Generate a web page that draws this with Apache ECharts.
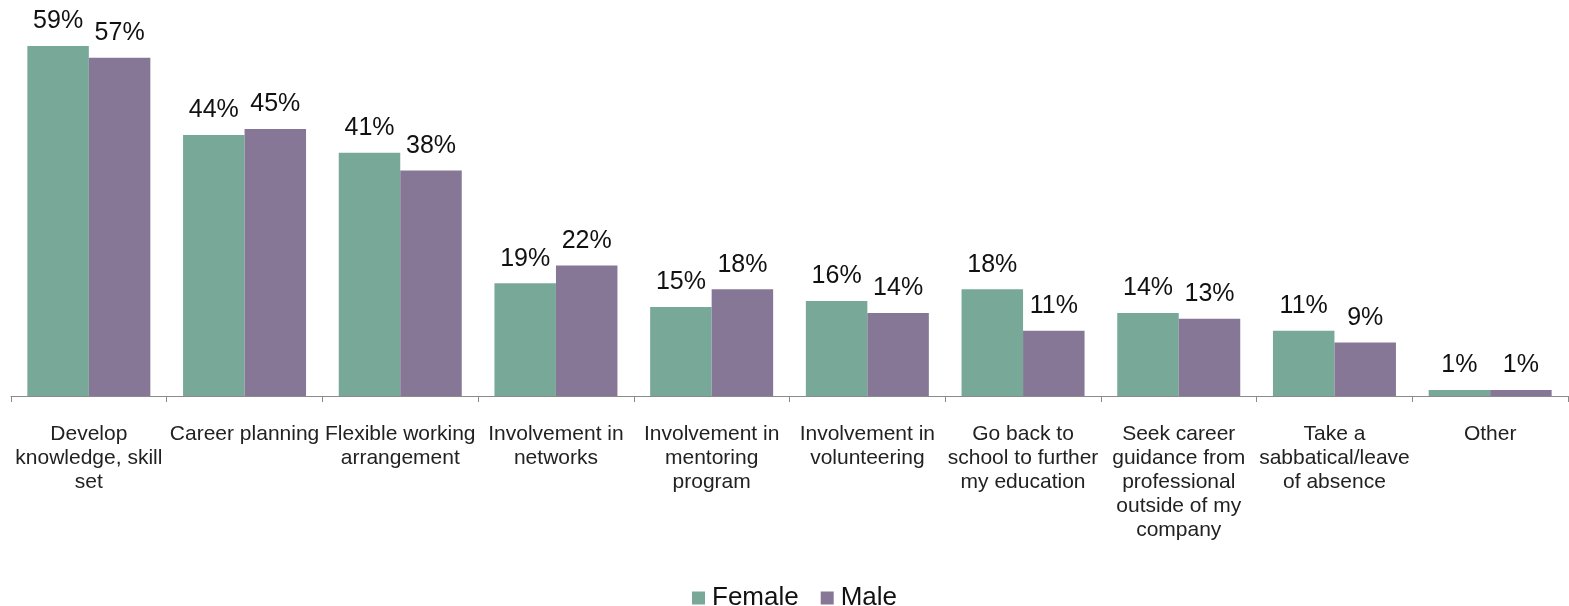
<!DOCTYPE html>
<html>
<head>
<meta charset="utf-8">
<script src="https://cdn.jsdelivr.net/npm/echarts@6/dist/echarts.min.js"></script>
<style>
  html, body { margin: 0; padding: 0; background: #fff; }
  #chart { width: 1569px; height: 606px; }
</style>
</head>
<body>
<div id="chart"></div>
<script>
// Activities respondents plan to pursue, by gender (percent)
const categories = [
  'Develop\nknowledge, skill\nset',
  'Career planning',
  'Flexible working\narrangement',
  'Involvement in\nnetworks',
  'Involvement in\nmentoring\nprogram',
  'Involvement in\nvolunteering',
  'Go back to\nschool to further\nmy education',
  'Seek career\nguidance from\nprofessional\noutside of my\ncompany',
  'Take a\nsabbatical/leave\nof absence',
  'Other'
];
const female = [59, 44, 41, 19, 15, 16, 18, 14, 11, 1];
const male = [57, 45, 38, 22, 18, 14, 11, 13, 9, 1];

const FONT = '"Liberation Sans", Arial, sans-serif';

const valueLabel = {
  show: true,
  position: 'top',
  distance: 12,
  formatter: '{c}%',
  fontFamily: FONT,
  fontSize: 25,
  color: '#111'
};

const chart = echarts.init(document.getElementById('chart'));
chart.setOption({
  animation: false,
  grid: { left: 11, right: 1, top: 40, bottom: 210, containLabel: false },
  legend: {
    left: 692,
    top: 585,
    padding: 0,
    itemWidth: 13,
    itemHeight: 13,
    itemGap: 22,
    icon: 'rect',
    textStyle: { fontFamily: FONT, fontSize: 26, color: '#111', padding: [0, 0, 0, 2] },
    data: ['Female', 'Male']
  },
  xAxis: {
    type: 'category',
    data: categories,
    axisLine: { lineStyle: { color: '#8a8a8a', width: 1 } },
    axisTick: { show: true, length: 6, lineStyle: { color: '#8a8a8a' } },
    axisLabel: {
      interval: 0,
      margin: 26,
      fontFamily: FONT,
      fontSize: 21,
      lineHeight: 24,
      color: '#222'
    }
  },
  yAxis: {
    type: 'value',
    min: 0,
    max: 60,
    show: false,
    splitLine: { show: false }
  },
  series: [
    {
      name: 'Female',
      type: 'bar',
      data: female,
      barWidth: '39.5%',
      barGap: '0%',
      itemStyle: { color: '#78a998' },
      label: valueLabel
    },
    {
      name: 'Male',
      type: 'bar',
      data: male,
      barWidth: '39.5%',
      itemStyle: { color: '#877796' },
      label: valueLabel
    }
  ]
});
</script>
</body>
</html>
